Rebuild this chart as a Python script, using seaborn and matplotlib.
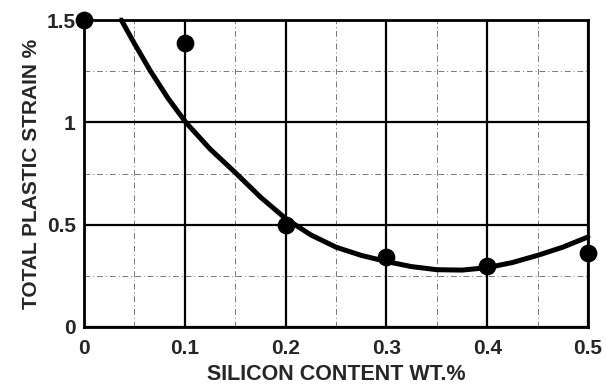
import matplotlib
matplotlib.use("Agg")
import matplotlib.pyplot as plt
import seaborn as sns
import pandas as pd
from matplotlib.ticker import MultipleLocator

sns.set_theme(style="white")
plt.rcParams['font.family'] = ['Liberation Sans', 'DejaVu Sans']

# measured data points
si_content = [0.0, 0.1, 0.2, 0.3, 0.4, 0.5]
plastic_strain = [1.50, 1.39, 0.50, 0.34, 0.30, 0.36]

# trend curve
curve_x = [0.037, 0.05, 0.066, 0.083, 0.101, 0.125, 0.15, 0.175, 0.2, 0.225, 0.25,
           0.275, 0.3, 0.325, 0.35, 0.375, 0.4, 0.425, 0.45, 0.475, 0.5]
curve_y = [1.50, 1.385, 1.25, 1.12, 1.00, 0.87, 0.755, 0.635, 0.53, 0.45, 0.39,
           0.35, 0.32, 0.295, 0.28, 0.278, 0.29, 0.315, 0.35, 0.39, 0.44]

x_ticks = [0, 0.1, 0.2, 0.3, 0.4, 0.5]
x_labels = ["0", "0.1", "0.2", "0.3", "0.4", "0.5"]
y_ticks = [0, 0.5, 1, 1.5]
y_labels = ["0", "0.5", "1", "1.5"]

pts = pd.DataFrame({"x": si_content, "y": plastic_strain})
crv = pd.DataFrame({"x": curve_x, "y": curve_y})

fig = plt.figure(figsize=(6.06, 3.85), dpi=100)
ax = fig.add_axes([84/606, 58/385, 504/606, 307/385])

ax.set_xlim(0, 0.5)
ax.set_ylim(0, 1.5)

# minor dash-dot grid
ax.xaxis.set_minor_locator(MultipleLocator(0.05))
ax.yaxis.set_minor_locator(MultipleLocator(0.25))
ax.grid(which="minor", color="#555555", linestyle=(0, (6, 3, 1, 3)), linewidth=0.7, alpha=0.8)
ax.grid(which="major", color="black", linestyle="-", linewidth=1.6)
ax.set_axisbelow(True)

sns.lineplot(data=crv, x="x", y="y", ax=ax, color="black", linewidth=3.6, clip_on=False, zorder=3)
sns.scatterplot(data=pts, x="x", y="y", ax=ax, color="black", s=140, edgecolor="black",
                clip_on=False, zorder=4)

ax.set_xticks(x_ticks)
ax.set_xticklabels(x_labels)
ax.set_yticks(y_ticks)
ax.set_yticklabels(y_labels)
ax.tick_params(which="both", length=0, labelsize=15)
ax.tick_params(axis="x", pad=9)
ax.tick_params(axis="y", pad=6)
for lbl in ax.get_xticklabels() + ax.get_yticklabels():
    lbl.set_fontweight("bold")

for sp in ax.spines.values():
    sp.set_color("black")
    sp.set_linewidth(2.0)
    sp.set_visible(True)

ax.set_xlabel("SILICON CONTENT WT.%", fontsize=15.5, fontweight="bold", labelpad=4)
ax.set_ylabel("TOTAL PLASTIC STRAIN %", fontsize=15, fontweight="bold", labelpad=4)

fig.savefig("out.png", dpi=100)
